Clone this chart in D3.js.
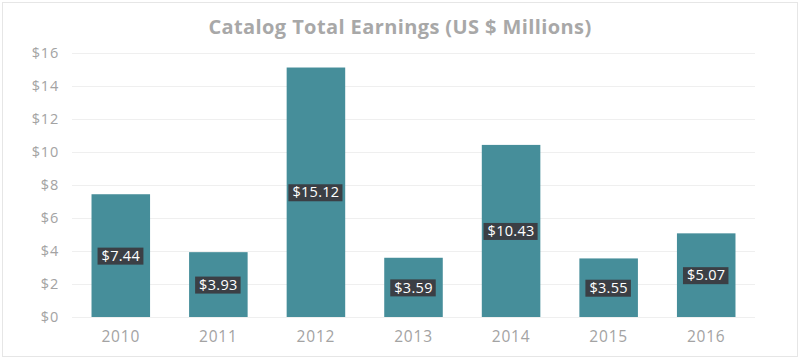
<!DOCTYPE html>
<html><head><meta charset="utf-8">
<script src="https://cdn.jsdelivr.net/npm/d3@7"></script>
<style>body{margin:0;background:#fff}svg{display:block}</style>
</head><body>
<svg id="c" width="800" height="359"></svg>
<script>
const years = ["2010","2011","2012","2013","2014","2015","2016"];
const earnings = [7.44, 3.93, 15.12, 3.59, 10.43, 3.55, 5.07];
const yTicks = [0,2,4,6,8,10,12,14,16];

const svg = d3.select("#c");
const W = 800, H = 359;
const m = {l:72, r:45, t:53, b:42};
svg.append("rect").attr("x",2.5).attr("y",2.5).attr("width",W-5).attr("height",H-5)
  .attr("fill","#fff").attr("stroke","#e6e6e6");

const x = d3.scaleBand().domain(years).range([m.l, W-m.r]).paddingInner(0.4).paddingOuter(0.2);
const y = d3.scaleLinear().domain([0,16]).range([H-m.b, m.t]);

svg.append("text").attr("x",400).attr("y",34).attr("text-anchor","middle")
  .attr("font-family","Open Sans, sans-serif").attr("font-weight","bold").attr("font-size",20)
  .attr("letter-spacing",0.4)
  .attr("fill","#a8a8a8").text("Catalog Total Earnings (US $ Millions)");

const ya = svg.append("g").attr("transform",`translate(${m.l},0)`)
  .call(d3.axisLeft(y).tickValues(yTicks).tickSize(-(W-m.l-m.r)).tickPadding(13).tickFormat(d=>"$"+d));
ya.select(".domain").remove();
ya.selectAll(".tick line").attr("stroke","#efefef");
ya.selectAll(".tick text").attr("fill","#a3a3a3").attr("font-size",14.5).attr("letter-spacing",0.8).attr("font-family","Open Sans, sans-serif");

const xa = svg.append("g").attr("transform",`translate(0,${H-m.b})`)
  .call(d3.axisBottom(x).tickSize(0).tickPadding(14));
xa.select(".domain").remove();
xa.selectAll(".tick text").attr("fill","#a3a3a3").attr("font-size",15.5).attr("letter-spacing",0.8).attr("font-family","Open Sans, sans-serif");

svg.append("g").selectAll("rect").data(earnings).join("rect")
  .attr("x",(d,i)=>x(years[i])).attr("width",x.bandwidth())
  .attr("y",d=>y(d)).attr("height",d=>y(0)-y(d)).attr("fill","#468e9a");

const lg = svg.append("g").selectAll("g").data(earnings).join("g")
  .attr("transform",(d,i)=>`translate(${x(years[i])+x.bandwidth()/2},${y(d/2)})`);
lg.append("text").attr("text-anchor","middle").attr("dy","0.36em")
  .attr("font-family","Open Sans, sans-serif").attr("font-size",14.5).attr("letter-spacing",0.3).attr("fill","#fff")
  .text(d=>"$"+d.toFixed(2));
lg.each(function(){
  const g = d3.select(this), t = g.select("text"), b = t.node().getBBox();
  g.insert("rect","text").attr("x",b.x-4).attr("y",-8).attr("width",b.width+7).attr("height",17).attr("fill","#3b3f45");
});
</script>
</body></html>
